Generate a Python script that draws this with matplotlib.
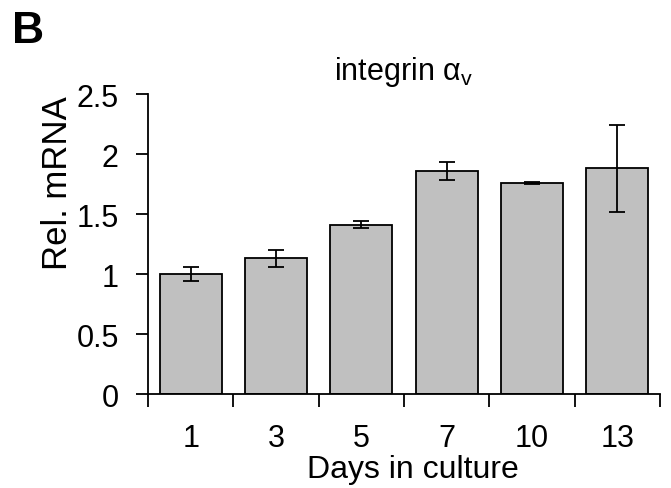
import matplotlib
matplotlib.use("Agg")
import matplotlib.pyplot as plt
import numpy as np

days = ["1", "3", "5", "7", "10", "13"]
rel_mrna = [1.00, 1.13, 1.41, 1.86, 1.76, 1.88]
errors = [0.06, 0.07, 0.03, 0.075, 0.01, 0.36]

plt.rcParams["font.family"] = ["Liberation Sans", "DejaVu Sans"]

fig = plt.figure(figsize=(6.71, 4.89), dpi=100)
ax = fig.add_axes([0.2206, 0.1922, 0.763, 0.6135])

x = np.arange(len(days))
ax.bar(x, rel_mrna, width=0.73, color="#c0c0c0", edgecolor="black", linewidth=1.3)
ax.errorbar(x, rel_mrna, yerr=errors, fmt="none", ecolor="black",
            elinewidth=1.3, capsize=6, capthick=1.3)

ax.set_xlim(-0.5, len(days) - 0.5)
ax.set_ylim(0, 2.5)
ax.set_yticks([0, 0.5, 1, 1.5, 2, 2.5])
ax.set_yticklabels(["0", "0.5", "1", "1.5", "2", "2.5"])
ax.set_xticks(x)
ax.set_xticklabels(days)
ax.set_xticks(np.arange(len(days) + 1) - 0.5, minor=True)
ax.tick_params(axis="x", which="major", length=0, pad=21, labelsize=22)
ax.tick_params(axis="x", which="minor", length=9, width=1.3, direction="out")
ax.tick_params(axis="y", length=9, width=1.3, direction="out", labelsize=22, pad=12)

for side in ["top", "right"]:
    ax.spines[side].set_visible(False)
for side in ["left", "bottom"]:
    ax.spines[side].set_linewidth(1.3)

ax.set_xlabel("Days in culture", fontsize=23, va="baseline")
ax.xaxis.set_label_coords(0.517, -0.277)
ax.set_ylabel("Rel. mRNA", fontsize=25, va="center")
ax.yaxis.set_label_coords(-0.176, 0.707)
ax.set_title(r"integrin α$_\mathregular{v}$", fontsize=22, pad=11)

fig.text(0.018, 0.912, "B", fontsize=32, fontweight="bold", va="baseline")

fig.savefig("out.png", dpi=100)
